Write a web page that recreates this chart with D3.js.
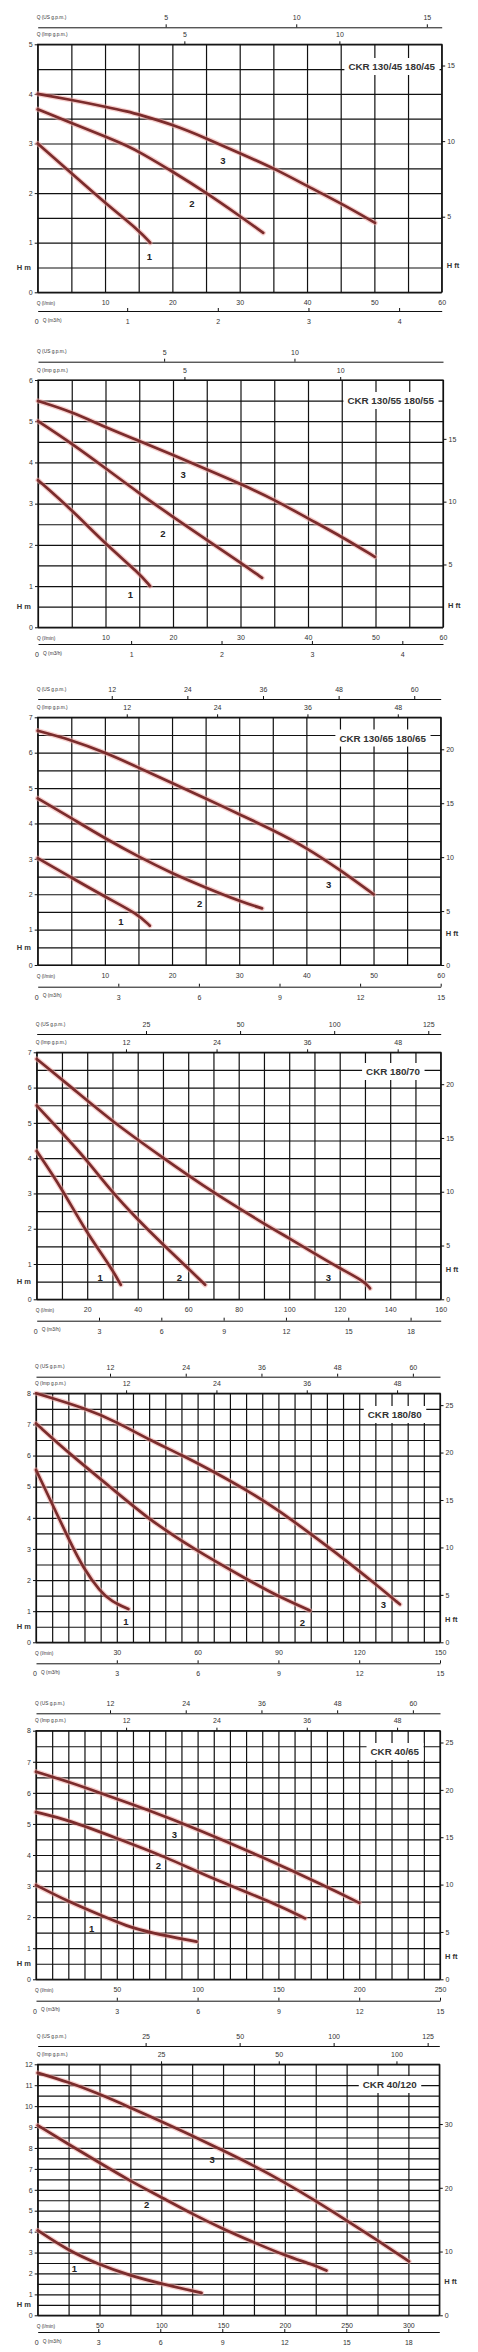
<!DOCTYPE html>
<html><head><meta charset="utf-8">
<script src="https://cdn.jsdelivr.net/npm/d3@7"></script>
<style>body{margin:0;background:#fff}svg{display:block}</style>
</head><body><svg id="c" width="478" height="2352"></svg>
<script>
// ---------- DATA ----------
const titles = ["CKR 130/45 180/45","CKR 130/55 180/55","CKR 130/65 180/65","CKR 180/70","CKR 180/80","CKR 40/65","CKR 40/120"];
const hMax = [5,6,7,7,8,8,12];
const qMax = [60,60,60,160,150,250,325];
const qGridStep = [5,5,5,10,6,10,25];
const qLabelStep = [10,10,10,20,30,50,50];
const usTicks = [[5,10,15],[5,10],[12,24,36,48,60],[25,50,75,100],[12,24,36,48,60],[12,24,36,48,60],[25,50,75,100]];
const usLabels = [["5","10","15"],["5","10"],["12","24","36","48","60"],["25","50","100","125"],["12","24","36","48","60"],["12","24","36","48","60"],["25","50","100","125"]];
const usDomain = [[0.1,15.57],[0.16,15.7],[0.25,64.2],[-4.04,103.3],[0.27,64.3],[0.27,64.3],[-3.7,103.1]];
const impTicks = [[5,10],[5,10],[12,24,36,48],[12,24,36,48],[12,24,36,48],[12,24,36,48],[25,50,75]];
const impLabels = [["5","10"],["5","10"],["12","24","36","48"],["12","24","36","48"],["12","24","36","48"],["12","24","36","48"],["25","50","100"]];
const impDomain = [[0.27,13.3],[0.3,13.3],[0.17,53.7],[0.17,53.7],[0.03,53.7],[0.03,53.7],[-1.2,84.1]];
const m3hTicks = [[1,2,3,4],[1,2,3,4],[3,6,9,12,15],[3,6,9,12,15,18],[3,6,9,12,15],[3,6,9,12,15],[3,6,9,12,15,18]];
const m3hDomain = [[0.013,4.47],[-0.03,4.45],[0,15],[0,19.45],[0,15],[0,15],[0.07,19.5]];
const ftTicks = [[5,10,15],[5,10,15],[0,5,10,15,20],[0,5,10,15,20],[0,5,10,15,20,25],[0,5,10,15,20,25],[0,10,20,30]];

// curves [Q l/min, H m]
const p1c1 = [[0,3.0],[5,2.4],[10.1,1.79],[15.1,1.24],[16.7,1.0]];
const p1c2 = [[0,3.69],[5,3.41],[10.1,3.14],[13.5,2.94],[15.1,2.83],[20.1,2.43],[25.1,2.0],[30.1,1.53],[33.5,1.2]];
const p1c3 = [[0,4.0],[5,3.88],[10.1,3.74],[13.5,3.64],[15.1,3.58],[20.1,3.38],[25.1,3.1],[30.1,2.8],[35.1,2.5],[40.2,2.13],[45.1,1.79],[50.1,1.4]];
const p2c1 = [[0,3.57],[5,2.85],[10,2.02],[15,1.31],[16.6,1.0]];
const p2c2 = [[0,5.0],[5,4.46],[10,3.86],[15,3.25],[20,2.68],[25,2.12],[30,1.57],[33.2,1.2]];
const p2c3 = [[0,5.49],[5,5.23],[10,4.85],[15,4.52],[20,4.18],[25,3.83],[30,3.48],[35,3.1],[40,2.64],[45,2.2],[49.9,1.71]];
const p3c1 = [[0,3.02],[5,2.47],[10,1.93],[15,1.43],[16.7,1.11]];
const p3c2 = [[0,4.71],[5,4.15],[10,3.58],[15,3.06],[20,2.59],[25,2.19],[30,1.81],[33.4,1.6]];
const p3c3 = [[0,6.62],[5,6.36],[10,6.01],[15,5.58],[20,5.14],[25,4.71],[30,4.26],[35,3.82],[40,3.32],[45,2.69],[50,2.0]];
const p4c1 = [[0,4.2],[9.9,3.15],[19.1,1.96],[29.7,0.88],[33.3,0.41]];
const p4c2 = [[0,5.49],[9.9,4.73],[19.8,3.95],[29.7,3.05],[39.6,2.29],[50.2,1.54],[59.4,0.92],[66.7,0.41]];
const p4c3 = [[0,6.81],[13.9,6.0],[29.7,5.05],[50.2,4.0],[69.3,3.05],[91,2.1],[100,1.73],[110,1.3],[120,0.88],[130,0.5],[132,0.31]];
const p5c1 = [[0,5.54],[6,4.45],[12.6,3.23],[17.6,2.38],[23.8,1.63],[28.1,1.31],[34.3,1.07]];
const p5c2 = [[0,7.03],[13.2,6.0],[27.5,5.0],[41.1,4.0],[58.4,3.0],[78.8,2.0],[89.4,1.5],[101.7,1.02]];
const p5c3 = [[0,8.0],[18.3,7.52],[30.2,7.07],[42.1,6.5],[54.1,6.02],[66,5.48],[78.2,4.89],[90,4.25],[101.7,3.5],[114.1,2.7],[126.5,1.84],[135.1,1.22]];
const p6c1 = [[0,3.03],[20,2.5],[39.6,2.07],[56.1,1.71],[70.5,1.5],[99.4,1.21]];
const p6c2 = [[0,5.38],[20,5.13],[49.9,4.54],[79.8,3.95],[108.7,3.25],[148.9,2.42],[166.5,1.96]];
const p6c3 = [[0,6.68],[21,6.34],[39.6,6.0],[69.5,5.45],[99.4,4.84],[138.6,3.97],[179.9,2.98],[200,2.46]];
const p7c1 = [[0,4.06],[24.3,3.11],[49,2.44],[74,1.91],[99.7,1.51],[132.6,1.07]];
const p7c2 = [[0,9.08],[24.3,8.2],[49,7.33],[74,6.45],[99.7,5.66],[124.5,4.86],[149.6,4.14],[174.4,3.5],[199.5,2.87],[224.3,2.39],[233.7,2.14]];
const p7c3 = [[0,11.59],[24.3,11.16],[49,10.6],[74,9.96],[99.7,9.27],[124.5,8.6],[149.6,7.89],[174.4,7.17],[199.5,6.37],[224.3,5.5],[249.9,4.54],[274.9,3.59],[300.5,2.58]];
const curveSets = [[p1c1,p1c2,p1c3],[p2c1,p2c2,p2c3],[p3c1,p3c2,p3c3],[p4c1,p4c2,p4c3],[p5c1,p5c2,p5c3],[p6c1,p6c2,p6c3],[p7c1,p7c2,p7c3]];
// curve number label positions [Q, H]
const curveLabels = [
  [[16.6,0.71],[22.9,1.78],[27.5,2.65]],
  [[13.7,0.78],[18.5,2.28],[21.5,3.7]],
  [[12.4,1.22],[24.1,1.73],[43.3,2.28]],
  [[25.1,0.6],[56.5,0.6],[115.5,0.6]],
  [[33.4,0.66],[98.9,0.64],[129,1.2]],
  [[34.5,1.62],[75.7,3.65],[85.6,4.66]],
  [[29.6,2.23],[88.1,5.31],[141.2,7.44]]];
const hftLabelH = [0.55,0.52,0.88,0.86,0.75,0.73,1.6];

// ---------- LAYOUT ----------
const boxes = [
 [37.7,44.3,441.7,292.3],[38,380,443,627.3],[37.7,717.3,440.7,965],[36.7,1052.3,440.7,1299.3],
 [36,1393.3,440,1642.3],[36,1730.7,440,1979.3],[37.7,2064.3,439.3,2315.3]];
const usOff = [17,18.3,18.3,18.3,16.6,17.4,18.3];
const m3hOff = [18.7,16.7,21.7,21.4,21,21.4,16.7];
const titlePos = [[435,70],[434,404],[426,741.5],[420,1075],[421.7,1418],[419,1755],[416.7,2088]];

const FONT = '"Liberation Sans", Arial, sans-serif';
const INK = '#111', TXT = '#333';
const svg = d3.select('#c').attr('font-family', FONT);
svg.append('rect').attr('width',478).attr('height',2352).attr('fill','#fff');

function style(g, fs){
  g.attr('font-family', FONT).attr('font-size', fs);
  g.selectAll('text').attr('fill', TXT);
  g.selectAll('line').attr('stroke', INK).attr('stroke-width', 1);
  g.select('.domain').attr('stroke', INK).attr('stroke-width', 1);
  return g;
}

for (let p = 0; p < 7; p++) {
  const [L,T,R,B] = boxes[p];
  const x = d3.scaleLinear().domain([0,qMax[p]]).range([L,R]);
  const y = d3.scaleLinear().domain([0,hMax[p]]).range([B,T]);
  const yf = d3.scaleLinear().domain([0,hMax[p]/0.3048]).range([B,T]);
  const xu = d3.scaleLinear().domain(usDomain[p]).range([L,R]);
  const xi = d3.scaleLinear().domain(impDomain[p]).range([L,R]);
  const xm = d3.scaleLinear().domain(m3hDomain[p]).range([L,R]);
  const g = svg.append('g');

  // grid
  const gridQ = d3.range(0, qMax[p] + 1e-6, qGridStep[p]);
  const gridH = d3.range(0, hMax[p] + 1e-6, 0.5);
  const gx = g.append('g').attr('transform',`translate(0,${B})`)
    .call(d3.axisBottom(x).tickValues(gridQ).tickSize(-(B-T)).tickFormat(''));
  gx.select('.domain').remove();
  gx.selectAll('line').attr('stroke',INK).attr('stroke-width',1.2);
  const gy = g.append('g').attr('transform',`translate(${L},0)`)
    .call(d3.axisLeft(y).tickValues(gridH).tickSize(-(R-L)).tickFormat(''));
  gy.select('.domain').remove();
  gy.selectAll('line').attr('stroke',INK).attr('stroke-width',1.2);
  g.append('rect').attr('x',L).attr('y',T).attr('width',R-L).attr('height',B-T)
    .attr('fill','none').attr('stroke',INK).attr('stroke-width',1.2);

  // left H m axis
  const ax = g.append('g').attr('transform',`translate(${L},0)`)
    .call(d3.axisLeft(y).tickValues(d3.range(0,hMax[p]+1e-6,1)).tickSize(3).tickPadding(2).tickFormat(d3.format('d')));
  ax.select('.domain').remove(); style(ax, 7);
  // right ft axis
  const af = g.append('g').attr('transform',`translate(${R},0)`)
    .call(d3.axisRight(yf).tickValues(ftTicks[p]).tickSize(3.5).tickPadding(2).tickFormat(d3.format('d')));
  af.select('.domain').remove(); style(af, 7);
  // top Imp gpm axis (at plot top)
  const ai = g.append('g').attr('transform',`translate(0,${T})`)
    .call(d3.axisTop(xi).tickValues(impTicks[p]).tickSize(3).tickPadding(4.5).tickFormat((d,i)=>impLabels[p][i]));
  ai.select('.domain').remove(); style(ai, 7);
  // top US gpm axis
  const uy = T - usOff[p];
  const au = g.append('g').attr('transform',`translate(0,${uy})`)
    .call(d3.axisTop(xu).tickValues(usTicks[p]).tickSizeInner(3).tickSizeOuter(0).tickPadding(4).tickFormat((d,i)=>usLabels[p][i]));
  style(au, 7);
  // bottom l/min labels
  const lv = d3.range(qLabelStep[p], qMax[p] + 1e-6, qLabelStep[p]);
  const al = g.append('g').attr('transform',`translate(0,${B})`)
    .call(d3.axisBottom(x).tickValues(lv).tickSize(0).tickPadding(8).tickFormat(d3.format('d')));
  al.select('.domain').remove(); style(al, 7);
  // m3/h axis
  const my = B + m3hOff[p];
  const am = g.append('g').attr('transform',`translate(0,${my})`)
    .call(d3.axisBottom(xm).tickValues(m3hTicks[p]).tickSizeInner(-3).tickSizeOuter(0).tickPadding(8).tickFormat(d3.format('d')));
  style(am, 7);

  // small captions
  const cap = (tx,ty,t,fs,anchor) => g.append('text').attr('x',tx).attr('y',ty).attr('font-size',fs)
     .attr('fill',TXT).attr('text-anchor',anchor||'start').text(t);
  cap(L-1, uy-8.5, 'Q (US g.p.m.)', 4.8);
  cap(L-1, T-8.5, 'Q (Imp g.p.m.)', 4.8);
  cap(L-1, B+13, 'Q (l/min)', 4.8);
  cap(L-1, my+13, '0', 7, 'middle');
  cap(L+5, my+10.5, 'Q (m3/h)', 4.8);

  // H labels
  g.append('text').attr('x',31).attr('y',y(0.5)).attr('dy','0.35em').attr('text-anchor','end')
    .attr('font-size',7.5).attr('font-weight','bold').attr('fill',TXT).text('H m');
  g.append('text').attr('x',R+5).attr('y',y(hftLabelH[p])).attr('dy','0.35em')
    .attr('font-size',7.5).attr('font-weight','bold').attr('fill',TXT).text('H ft');

  // title with white box
  const tg = g.append('g');
  const tr = tg.append('rect').attr('fill','#fff');
  const tt = tg.append('text').attr('x',titlePos[p][0]).attr('y',titlePos[p][1]).attr('text-anchor','end')
    .attr('font-size',9.8).attr('font-weight','bold').attr('fill','#333').text(titles[p]);
  const bb = tt.node().getBBox();
  tr.attr('x',bb.x-4).attr('y',bb.y-3).attr('width',bb.width+8).attr('height',bb.height+6);

  // curves
  const line = d3.line().x(d=>x(d[0])).y(d=>y(d[1])).curve(d3.curveBasis);
  curveSets[p].forEach(c => {
    g.append('path').attr('d',line(c)).attr('fill','none').attr('stroke','#f0a8a4')
      .attr('stroke-width',5.2).attr('stroke-opacity',0.55).attr('stroke-linecap','round');
    g.append('path').attr('d',line(c)).attr('fill','none').attr('stroke','#7b2c2c')
      .attr('stroke-width',2.7).attr('stroke-linecap','round');
  });
  curveLabels[p].forEach((d,i) => {
    g.append('text').attr('x',x(d[0])).attr('y',y(d[1])).attr('dy','0.35em').attr('text-anchor','middle')
      .attr('font-size',9.5).attr('font-weight','bold').attr('fill','#222').text(String(i+1));
  });
}
</script></body></html>
